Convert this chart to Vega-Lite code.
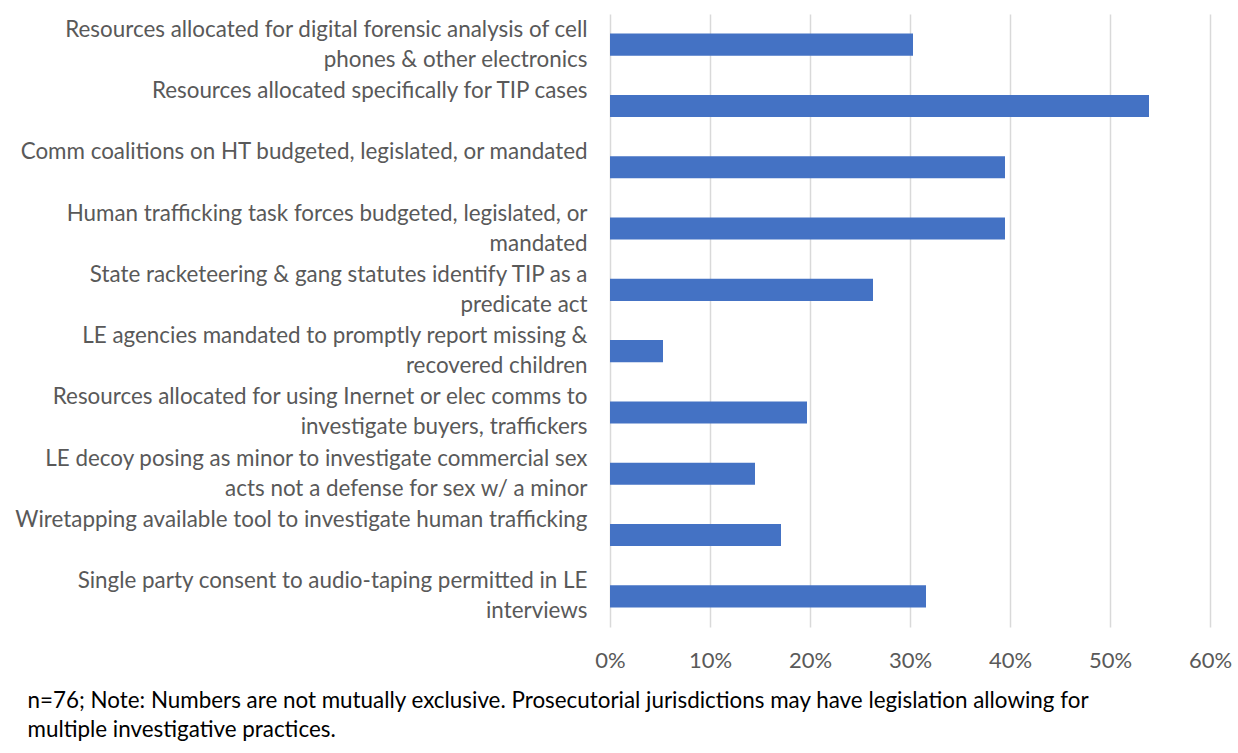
{
  "$schema": "https://vega.github.io/schema/vega-lite/v6.json",
  "autosize": "none",
  "width": 600,
  "height": 613,
  "padding": {"left": 610, "top": 14, "right": 28, "bottom": 126},
  "background": "white",
  "data": {
    "values": [
      {"label": "Resources allocated for digital forensic analysis of cell|phones & other electronics", "pct": 0.303},
      {"label": "Resources allocated specifically for TIP cases|", "pct": 0.539},
      {"label": "Comm coalitions on HT budgeted, legislated, or mandated\u00a0|", "pct": 0.395},
      {"label": "Human trafficking task forces budgeted, legislated, or|mandated", "pct": 0.395},
      {"label": "State racketeering & gang statutes identify TIP as a|predicate act", "pct": 0.263},
      {"label": "LE agencies mandated to promptly report missing &|recovered children", "pct": 0.053},
      {"label": "Resources allocated for using Inernet or elec comms to|investigate buyers, traffickers", "pct": 0.197},
      {"label": "LE decoy posing as minor to investigate commercial sex|acts not a defense for sex w/ a minor", "pct": 0.145},
      {"label": "Wiretapping available tool to investigate human trafficking|", "pct": 0.171},
      {"label": "Single party consent to audio-taping permitted in LE|interviews", "pct": 0.316}
    ]
  },
  "mark": {"type": "bar", "color": "#4472C4"},
  "encoding": {
    "y": {
      "field": "label",
      "type": "nominal",
      "sort": null,
      "scale": {"paddingInner": 0.64, "paddingOuter": 0.32},
      "axis": {
        "title": null,
        "domain": false,
        "ticks": false,
        "grid": false,
        "labelExpr": "split(datum.value, '|')",
        "labelFont": "Lato",
        "labelFontSize": 22.4,
        "labelColor": "#595959",
        "labelPadding": 23,
        "labelLineHeight": 30,
        "labelOffset": -15,
        "labelLimit": 700,
        "labelAlign": "right",
        "labelBaseline": "middle"
      }
    },
    "x": {
      "field": "pct",
      "type": "quantitative",
      "scale": {"domain": [0, 0.6], "nice": false},
      "axis": {
        "format": ".0%",
        "values": [0, 0.1, 0.2, 0.3, 0.4, 0.5, 0.6],
        "domain": false,
        "ticks": false,
        "grid": true,
        "gridColor": "#d9d9d9",
        "gridWidth": 1.5,
        "labelFlush": false,
        "labelFont": "Lato",
        "labelFontSize": 22,
        "labelColor": "#595959",
        "labelBaseline": "middle",
        "labelPadding": 33,
        "title": ["n=76; Note: Numbers are not mutually exclusive. Prosecutorial jurisdictions may have legislation allowing for", "multiple investigative practices."],
        "titleFont": "Lato",
        "titleFontSize": 22.4,
        "titleFontWeight": "normal",
        "titleColor": "#000000",
        "titleAnchor": "start",
        "titleAlign": "left",
        "titleBaseline": "middle",
        "titleLineHeight": 29,
        "titleX": -583,
        "titleY": 73
      }
    }
  },
  "config": {"view": {"stroke": null}}
}
